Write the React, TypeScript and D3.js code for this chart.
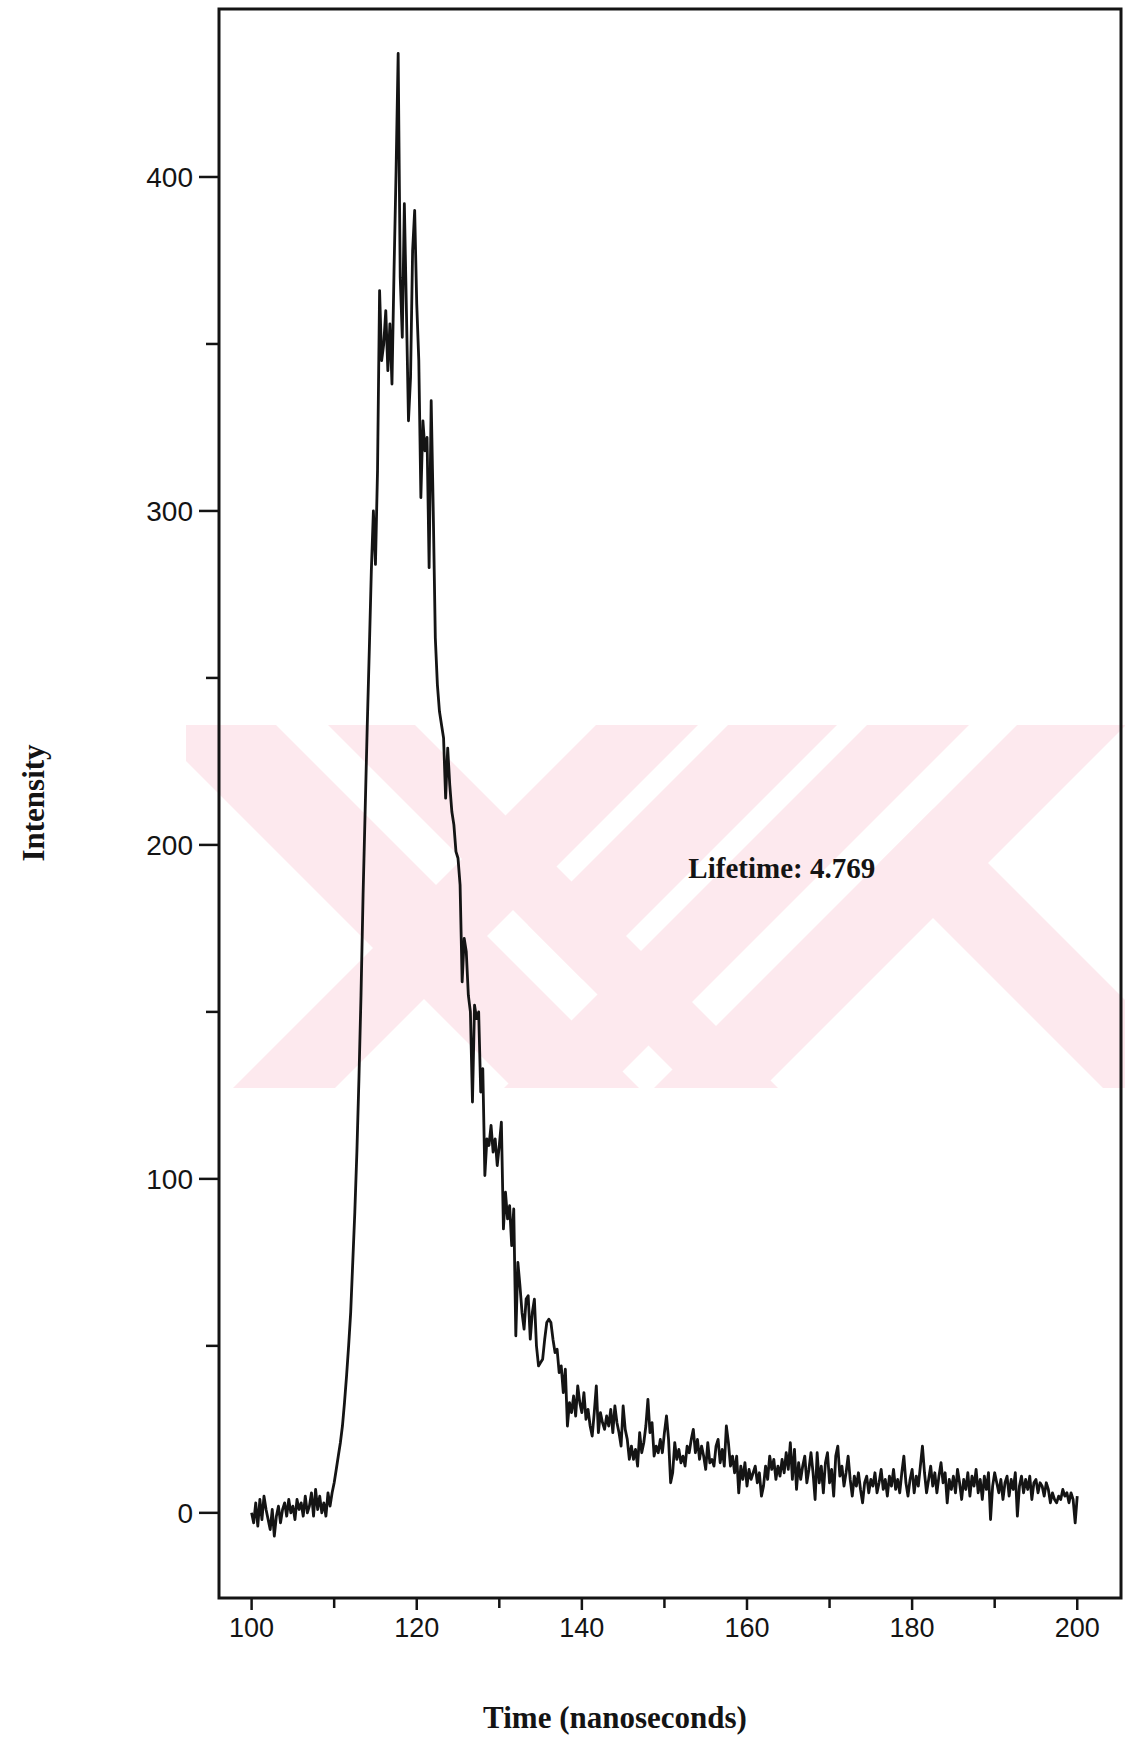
import React from 'react';
import * as d3 from 'd3';

// ---- data ----
const startTime = 100; // ns, first channel
const timeStep = 0.25; // ns between channels
const intensity: number[] = [
  // 100 - 104.75
  0, -3, 3, -4, 4, -2, 5, 1, -2, -5, 1, -7, -1, 2, -3, 1, 3, -1, 4, 0,
  // 105 - 109.75
  2, -2, 4, 1, 3, -1, 5, 0, 2, 6, -1, 7, 1, 5, 0, 3, -1, 6, 2, 6,
  // 110 - 114.75
  9, 13, 17, 21, 26, 33, 41, 50, 60, 75, 90, 108, 130, 155, 185, 210, 235, 258, 282, 300,
  // 115 - 119.75
  284, 312, 366, 345, 350, 360, 342, 356, 338, 372, 402, 437, 370, 352, 392, 360, 327, 340, 378, 390,
  // 120 - 124.75
  362, 345, 304, 327, 318, 322, 283, 333, 300, 262, 248, 240, 236, 232, 214, 229, 218, 210, 206, 198,
  // 125 - 129.75
  196, 188, 159, 172, 168, 155, 150, 123, 152, 148, 150, 126, 133, 101, 112, 110, 116, 108, 112, 104,
  // 130 - 134.75
  110, 117, 85, 96, 88, 92, 80, 91, 53, 75, 68, 60, 55, 64, 65, 52, 60, 64, 50, 44,
  // 135 - 139.75
  45, 46, 52, 57, 58, 57, 52, 48, 49, 42, 44, 36, 43, 26, 33, 30, 35, 29, 38, 33,
  // 140 - 144.75
  30, 36, 28, 31, 26, 23, 30, 38, 24, 30, 27, 25, 29, 26, 31, 24, 32, 27, 24, 20,
  // 145 - 149.75
  32, 25, 22, 16, 20, 16, 19, 14, 24, 18, 21, 26, 34, 24, 27, 17, 20, 18, 22, 18,
  // 150 - 154.75
  24, 29, 22, 9, 12, 21, 16, 19, 15, 17, 14, 20, 18, 22, 25, 18, 22, 16, 20, 17,
  // 155 - 159.75
  13, 21, 15, 16, 14, 20, 22, 15, 19, 14, 26, 21, 14, 17, 12, 17, 6, 14, 10, 15,
  // 160 - 164.75
  8, 13, 10, 12, 14, 9, 12, 5, 8, 14, 10, 17, 13, 16, 10, 14, 11, 16, 12, 18,
  // 165 - 169.75
  13, 21, 10, 19, 7, 15, 10, 14, 17, 9, 13, 18, 12, 4, 18, 9, 14, 6, 15, 18,
  // 170 - 174.75
  9, 13, 5, 17, 20, 11, 14, 8, 12, 17, 10, 5, 11, 8, 12, 7, 3, 9, 11, 6,
  // 175 - 179.75
  10, 8, 12, 6, 9, 13, 7, 10, 5, 11, 8, 13, 7, 10, 6, 12, 17, 9, 5, 10,
  // 180 - 184.75
  13, 6, 11, 8, 14, 20, 12, 6, 10, 14, 8, 12, 6, 11, 15, 9, 12, 3, 10, 7,
  // 185 - 189.75
  11, 6, 13, 9, 4, 10, 7, 12, 5, 11, 8, 13, 6, 10, 4, 11, 7, 12, -2, 8,
  // 190 - 194.75
  12, 9, 6, 10, 4, 9, 11, 5, 10, 7, 12, -1, 8, 11, 6, 10, 7, 11, 4, 9,
  // 195 - 199.75
  10, 6, 9, 8, 5, 9, 7, 3, 6, 4, 3, 5, 4, 7, 5, 6, 3, 6, 4, -3,
  // 200
  5,
];

const xMajorTicks = [100, 120, 140, 160, 180, 200];
const xMinorTicks = [110, 130, 150, 170, 190];
const yMajorTicks = [0, 100, 200, 300, 400];
const yMinorTicks = [50, 150, 250, 350];
const xTitle = 'Time (nanoseconds)';
const yTitle = 'Intensity';
const annotationText = 'Lifetime: 4.769';
const annotationAt = { time: 152.9, value: 190 };

type Band = { a: number; b: number; dir: number; cut?: { c: number; dir: number } };

export default function App() {
  const W = 1125;
  const H = 1740;
  const frame = { left: 219, right: 1121, top: 9, bottom: 1598 };

  const x = d3.scaleLinear().domain([96.05, 205.3]).range([frame.left, frame.right]);
  const y = d3.scaleLinear().domain([-25.5, 450.3]).range([frame.bottom, frame.top]);

  const points: [number, number][] = intensity.map((v, i) => [startTime + i * timeStep, v]);
  const line = d3
    .line<[number, number]>()
    .x((d) => x(d[0]))
    .y((d) => y(d[1]));

  // decorative scan watermark (light pink diagonal bands at 45 degrees)
  const wm = { x0: 186, x1: 1125, y0: 725, y1: 1088 };
  const h = wm.y1 - wm.y0;
  const bands: Band[] = [
    { a: 150, b: 276, dir: 1 },
    { a: 328, b: 415, dir: 1 },
    { a: 596, b: 698, dir: -1 },
    { a: 728, b: 837, dir: -1, cut: { c: 328, dir: 1 } },
    { a: 867, b: 969, dir: -1 },
    { a: 1017, b: 1126, dir: -1 },
    { a: 740, b: 850, dir: 1, cut: { c: 1017, dir: -1 } },
  ];
  // keep the part of a band lying on the far side of a cutting edge line
  const bandPoly = (bd: Band): string => {
    const edge = (x0: number, dir: number, dy: number) => x0 + dir * dy;
    if (!bd.cut) {
      return [
        [bd.a, wm.y0],
        [bd.b, wm.y0],
        [edge(bd.b, bd.dir, h), wm.y1],
        [edge(bd.a, bd.dir, h), wm.y1],
      ]
        .map((p) => p.join(','))
        .join(' ');
    }
    const cut = bd.cut;
    const meet = (x0: number) => {
      const dy = (cut.c - x0) / (bd.dir - cut.dir);
      return [edge(x0, bd.dir, dy), wm.y0 + dy];
    };
    const pa = meet(bd.a);
    const pb = meet(bd.b);
    if (bd.dir < 0) {
      return [[bd.a, wm.y0], [bd.b, wm.y0], pb, pa].map((p) => p.join(',')).join(' ');
    }
    return [pb, [edge(bd.b, bd.dir, h), wm.y1], [edge(bd.a, bd.dir, h), wm.y1], pa]
      .map((p) => p.join(','))
      .join(' ');
  };

  const tickFont = '"Liberation Sans", Arial, sans-serif';
  const titleFont = '"Liberation Serif", "Times New Roman", serif';
  const ink = '#141414';

  return (
    <svg
      width={W}
      height={H}
      viewBox={`0 0 ${W} ${H}`}
      style={{ position: 'absolute', left: 0, top: 0, display: 'block', background: '#fff' }}
    >
      <rect x={0} y={0} width={W} height={H} fill="#fff" />
      <defs>
        <clipPath id="wmclip">
          <rect x={wm.x0} y={wm.y0} width={wm.x1 - wm.x0} height={h} />
        </clipPath>
        <clipPath id="plotclip">
          <rect x={frame.left} y={frame.top} width={frame.right - frame.left} height={frame.bottom - frame.top} />
        </clipPath>
      </defs>

      <g clipPath="url(#wmclip)" fill="#fde9ee">
        {bands.map((bd, i) => (
          <polygon key={i} points={bandPoly(bd)} />
        ))}
      </g>

      {/* frame */}
      <rect
        x={frame.left}
        y={frame.top}
        width={frame.right - frame.left}
        height={frame.bottom - frame.top}
        fill="none"
        stroke={ink}
        strokeWidth={3}
      />

      {/* y ticks */}
      {yMajorTicks.map((t) => (
        <g key={`ym${t}`}>
          <line x1={frame.left - 20} x2={frame.left} y1={y(t)} y2={y(t)} stroke={ink} strokeWidth={2.5} />
          <text
            x={frame.left - 26}
            y={y(t)}
            dy="0.36em"
            textAnchor="end"
            fontFamily={tickFont}
            fontSize={28}
            fill={ink}
          >
            {t}
          </text>
        </g>
      ))}
      {yMinorTicks.map((t) => (
        <line key={`yn${t}`} x1={frame.left - 13} x2={frame.left} y1={y(t)} y2={y(t)} stroke={ink} strokeWidth={2.5} />
      ))}

      {/* x ticks */}
      {xMajorTicks.map((t) => (
        <g key={`xm${t}`}>
          <line x1={x(t)} x2={x(t)} y1={frame.bottom} y2={frame.bottom + 12} stroke={ink} strokeWidth={2.5} />
          <text x={x(t)} y={1637} textAnchor="middle" fontFamily={tickFont} fontSize={27} fill={ink}>
            {t}
          </text>
        </g>
      ))}
      {xMinorTicks.map((t) => (
        <line key={`xn${t}`} x1={x(t)} x2={x(t)} y1={frame.bottom} y2={frame.bottom + 10} stroke={ink} strokeWidth={2.5} />
      ))}

      {/* data */}
      <path
        d={line(points) || ''}
        fill="none"
        stroke={ink}
        strokeWidth={2.8}
        strokeLinejoin="round"
        clipPath="url(#plotclip)"
      />

      {/* annotation */}
      <text
        x={x(annotationAt.time)}
        y={y(annotationAt.value)}
        fontFamily={titleFont}
        fontWeight="bold"
        fontSize={29}
        fill={ink}
      >
        {annotationText}
      </text>

      {/* axis titles */}
      <text x={615} y={1728} textAnchor="middle" fontFamily={titleFont} fontWeight="bold" fontSize={31} fill={ink}>
        {xTitle}
      </text>
      <text
        transform={`translate(44, 803) rotate(-90)`}
        textAnchor="middle"
        fontFamily={titleFont}
        fontWeight="bold"
        fontSize={31}
        fill={ink}
      >
        {yTitle}
      </text>
    </svg>
  );
}
